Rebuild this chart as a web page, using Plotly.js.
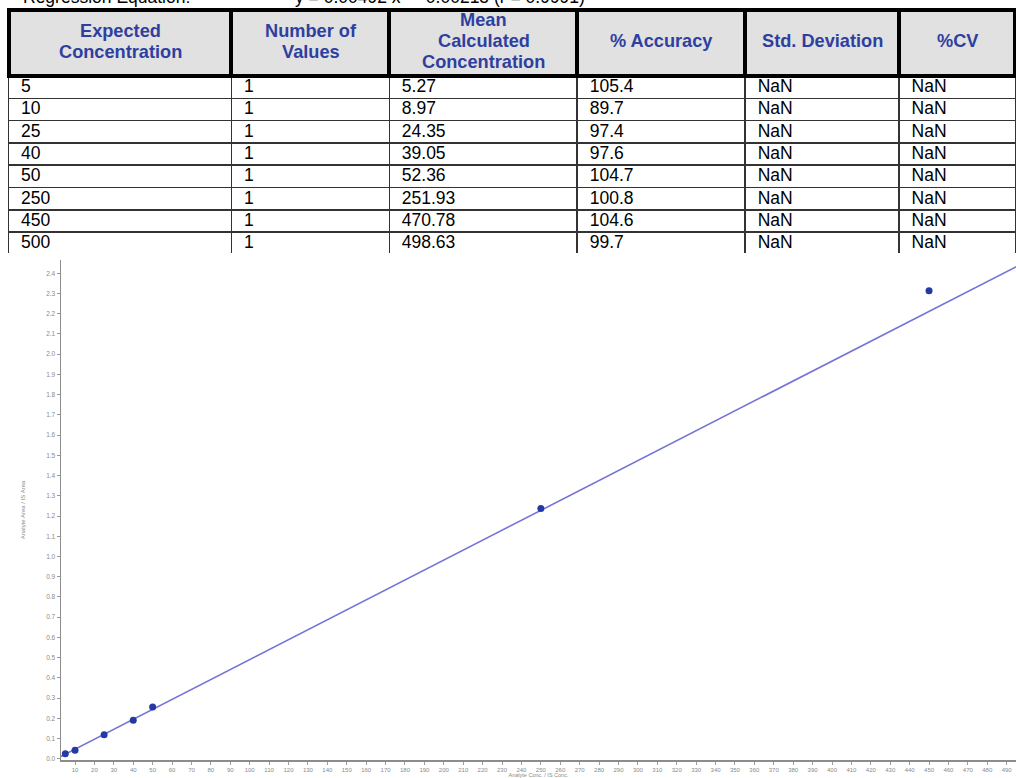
<!DOCTYPE html>
<html>
<head>
<meta charset="utf-8">
<script src="https://cdn.plot.ly/plotly-3.0.1.min.js"></script>
<style>
  html, body { margin: 0; padding: 0; background: #ffffff; }
  #chart { width: 1016px; height: 778px; }
  /* nudge body-cell text to sit centred in its row, with a little more left padding */
  #chart .table .cell-text { transform: translate(4.5px, -5px); }
</style>
</head>
<body>
<div id="chart"></div>
<script>
// ---- Calibration summary table ----
const headerLabels = ['Expected<br>Concentration', 'Number of<br>Values', 'Mean<br>Calculated<br>Concentration', '% Accuracy', 'Std. Deviation', '%CV'];
const expectedConc = [5, 10, 25, 40, 50, 250, 450, 500];
const numValues = [1, 1, 1, 1, 1, 1, 1, 1];
const meanCalcConc = [5.27, 8.97, 24.35, 39.05, 52.36, 251.93, 470.78, 498.63];
const accuracyPct = [105.4, 89.7, 97.4, 97.6, 104.7, 100.8, 104.6, 99.7];
const stdDeviation = ['NaN', 'NaN', 'NaN', 'NaN', 'NaN', 'NaN', 'NaN', 'NaN'];
const cvPct = ['NaN', 'NaN', 'NaN', 'NaN', 'NaN', 'NaN', 'NaN', 'NaN'];

// ---- Calibration curve ----
const standardConc = [5, 10, 25, 40, 50, 250, 450, 500];
const areaRatio = [0.024, 0.042, 0.118, 0.190, 0.256, 1.237, 2.314, 2.451];
const slope = 0.00492;
const intercept = -0.00215;
const equationLabel = 'Regression Equation:';
const equationText = 'y = 0.00492 x  -  0.00215 (r = 0.9991)';

// ---- Page geometry (pixels) ----
const W = 1016, H = 778;
const tableLeft = 8.5, tableTop = 10, tableBottom = 253;
const headerHeight = 66, rowHeight = 22.3;
const colWidths = [223, 158, 188, 168, 154, 116.5];
const plotLeft = 61, plotRight = 1016, plotTop = 260, plotBottom = 760;

const px2x = p => p / W;
const px2y = p => 1 - p / H;

const FONT = 'Arial, "Liberation Sans", sans-serif';
const headerBlue = '#2f3f9f';

// Header labels, one annotation per text line, centred in each header cell
const annotations = [];
let acc = tableLeft;
headerLabels.forEach((label, i) => {
  const cx = acc + colWidths[i] / 2;
  acc += colWidths[i];
  const lines = label.split('<br>');
  const cy = tableTop + headerHeight / 2 - 2;
  lines.forEach((ln, j) => {
    const y = cy + (j - (lines.length - 1) / 2) * 21;
    annotations.push({
      text: ln, xref: 'paper', yref: 'paper', x: px2x(cx), y: px2y(y),
      xanchor: 'center', yanchor: 'middle', showarrow: false,
      font: { family: FONT, size: 18.2, color: headerBlue, weight: 'bold' }
    });
  });
});

// Regression equation line above the table
annotations.push({
  text: equationLabel, xref: 'paper', yref: 'paper', x: px2x(21), y: 1,
  xanchor: 'left', yanchor: 'middle', yshift: 2.7, showarrow: false,
  font: { family: FONT, size: 17.5, color: '#000000' }
});
annotations.push({
  text: equationText, xref: 'paper', yref: 'paper', x: px2x(293), y: 1,
  xanchor: 'left', yanchor: 'middle', yshift: 2.7, showarrow: false,
  font: { family: FONT, size: 17.5, color: '#000000' }
});

const table = {
  type: 'table',
  domain: { x: [px2x(tableLeft), 1], y: [px2y(tableBottom), px2y(tableTop)] },
  columnwidth: colWidths,
  header: {
    values: headerLabels.map(() => ''),
    height: headerHeight,
    fill: { color: '#e1e1e1' },
    line: { color: '#000000', width: 4 }
  },
  cells: {
    values: [expectedConc, numValues, meanCalcConc, accuracyPct, stdDeviation, cvPct],
    format: ['', '', '.2f', '.1f', '', ''],
    height: rowHeight,
    align: 'left',
    fill: { color: '#ffffff' },
    line: { color: '#333333', width: 1.5 },
    font: { family: FONT, size: 17.5, color: '#000000' }
  }
};

// Regression line across the concentration range
const fitX = [0, 500];
const fitY = fitX.map(x => slope * x + intercept);

const fitLine = {
  type: 'scatter', mode: 'lines', x: fitX, y: fitY,
  line: { color: '#7474d6', width: 1.6 },
  hoverinfo: 'skip', showlegend: false
};

const standards = {
  type: 'scatter', mode: 'markers', x: standardConc, y: areaRatio,
  marker: { color: '#2339a3', size: 7 },
  showlegend: false
};

const axisCommon = {
  showline: true, linecolor: '#8c8c8c', linewidth: 1.5,
  showgrid: false, zeroline: false,
  ticks: 'outside', ticklen: 3, tickcolor: '#9a9a9a', tickwidth: 1,
  tickfont: { family: FONT, size: 6.5, color: '#8a8a8a' }
};

const layout = {
  width: W, height: H,
  margin: { l: 0, r: 0, t: 0, b: 0 },
  paper_bgcolor: '#ffffff', plot_bgcolor: '#ffffff',
  showlegend: false,
  xaxis: Object.assign({}, axisCommon, {
    domain: [px2x(plotLeft), px2x(plotRight)],
    range: [2.78, 494.8],
    tick0: 0, dtick: 10,
    tickfont: { family: FONT, size: 6, color: '#8a8a8a' },
    title: { text: 'Analyte Conc. / IS Conc.', standoff: 1,
             font: { family: FONT, size: 5.5, color: '#8a8a8a' } }
  }),
  yaxis: Object.assign({}, axisCommon, {
    domain: [px2y(plotBottom), px2y(plotTop)],
    range: [-0.0064, 2.4658],
    tick0: 0, dtick: 0.1, tickformat: '.1f',
    title: { text: 'Analyte Area / IS Area', standoff: 20,
             font: { family: FONT, size: 6, color: '#8a8a8a' } }
  }),
  annotations: annotations
};

Plotly.newPlot('chart', [fitLine, standards, table], layout, { displayModeBar: false, staticPlot: true });
</script>
</body>
</html>
